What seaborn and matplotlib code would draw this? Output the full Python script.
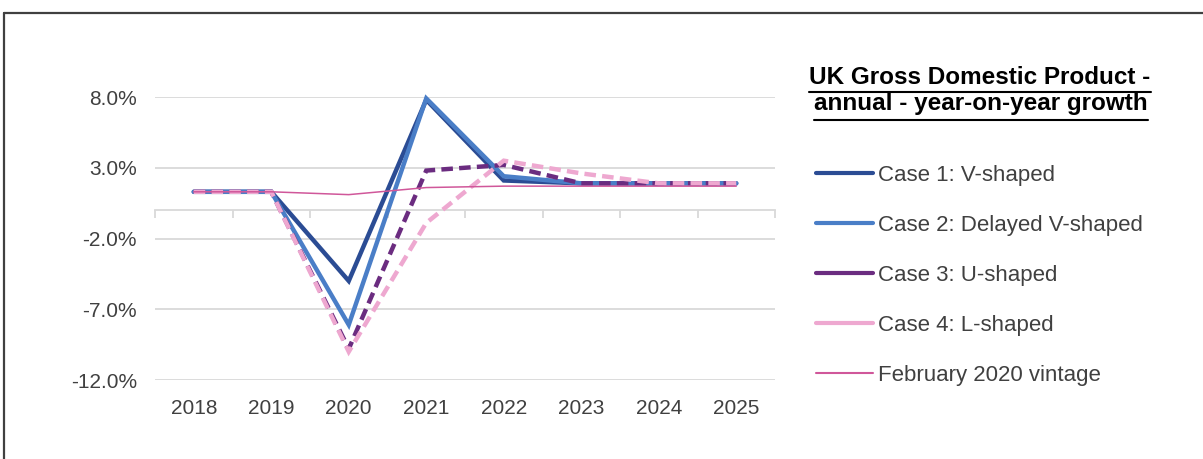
import numpy as np
import pandas as pd
import matplotlib
matplotlib.use("Agg")
import matplotlib.pyplot as plt
import seaborn as sns
from matplotlib.lines import Line2D

# ---------------- data ----------------
years = [2018, 2019, 2020, 2021, 2022, 2023, 2024, 2025]
case1 = [1.3, 1.3, -5.0, 7.8, 2.1, 1.9, 1.9, 1.9]
case2 = [1.3, 1.3, -8.1, 7.9, 2.4, 1.9, 1.9, 1.9]
case3 = [1.3, 1.3, -9.8, 2.8, 3.2, 1.9, 1.9, 1.9]
case4 = [1.3, 1.3, -10.0, -0.9, 3.5, 2.6, 1.9, 1.9]
feb2020 = [1.3, 1.3, 1.1, 1.6, 1.7, 1.7, 1.7, 1.7]
series_names = ["Case 1: V-shaped", "Case 2: Delayed V-shaped",
                "Case 3: U-shaped", "Case 4: L-shaped", "February 2020 vintage"]
ytick_values = [-12.0, -7.0, -2.0, 3.0, 8.0]
title_lines = ["UK Gross Domestic Product -", "annual - year-on-year growth"]

# ---------------- styles ----------------
colors = {
    series_names[0]: "#2B4C94",
    series_names[1]: "#4A7EC7",
    series_names[2]: "#6B2C80",
    series_names[3]: "#EEA8D0",
    series_names[4]: "#D0579A",
}
dashes = {
    series_names[0]: "",
    series_names[1]: "",
    series_names[2]: (2.6, 1.4),
    series_names[3]: (2.6, 1.4),
    series_names[4]: "",
}
widths = {
    series_names[0]: 3.2,
    series_names[1]: 3.2,
    series_names[2]: 3.2,
    series_names[3]: 3.2,
    series_names[4]: 1.1,
}

df = pd.DataFrame({
    "year": years * 5,
    "growth": case1 + case2 + case3 + case4 + feb2020,
    "series": np.repeat(series_names, len(years)),
})

sns.set_theme(style="white")
plt.rcParams["font.family"] = ["Liberation Sans", "DejaVu Sans"]

W, H = 1203, 459
fig = plt.figure(figsize=(W / 100, H / 100), dpi=100)
fig.patch.set_facecolor("white")

ax = fig.add_axes([155 / W, 1 - 380 / H, 620 / W, 283 / H])

sns.lineplot(data=df, x="year", y="growth", hue="series", style="series",
             hue_order=series_names, style_order=series_names,
             palette=colors, dashes=dashes, legend=False, ax=ax,
             linewidth=3.2, sort=False)

for line, name in zip(ax.lines, series_names):
    line.set_linewidth(widths[name])
    line.set_clip_on(False)
    line.set_solid_joinstyle("miter")
    line.set_dash_joinstyle("miter")
    line.set_dash_capstyle("butt")

ymin, ymax = ytick_values[0], ytick_values[-1]
ax.set_ylim(ymin, ymax)
ax.set_xlim(years[0] - 0.5, years[-1] + 0.5)
ax.set_yticks(ytick_values)
ax.set_yticklabels([f"{v:.1f}%" for v in ytick_values])
ax.set_xticks(years)
ax.set_xticklabels([str(y) for y in years])
ax.set_xlabel("")
ax.set_ylabel("")
ax.grid(axis="y", color="#D9D9D9", linewidth=1.3)
ax.grid(axis="x", visible=False)
for s in ax.spines.values():
    s.set_visible(False)
ax.tick_params(axis="y", length=0, pad=13, labelsize=15, labelcolor="#404040")
ax.tick_params(axis="x", length=0, pad=14, labelsize=15, labelcolor="#404040")

# zero axis with category-boundary ticks pointing down
zero_frac = (0 - ymin) / (ymax - ymin)
sec = ax.secondary_xaxis(zero_frac)
boundaries = [y - 0.5 for y in years] + [years[-1] + 0.5]
sec.set_xticks(boundaries)
sec.set_xticklabels([""] * len(boundaries))
sec.xaxis.set_ticks_position("bottom")
sec.tick_params(axis="x", which="both", length=6, width=1.3, color="#D9D9D9",
                direction="out", bottom=True, top=False)
for k, s in sec.spines.items():
    if k == "bottom":
        s.set_visible(True)
        s.set_color("#D9D9D9")
        s.set_linewidth(1.3)
    else:
        s.set_visible(False)

# legend
handles = [Line2D([], [], color=colors[n], linewidth=(3.0 if widths[n] > 2 else 1.5))
           for n in series_names]
fig.legend(handles, series_names, loc="upper left",
           bbox_to_anchor=(816 / W, 1 - 165 / H), frameon=False,
           fontsize=16, handlelength=2.55, handletextpad=0.25,
           labelspacing=1.3, borderpad=0, borderaxespad=0,
           labelcolor="#404040")

# title (bold, underlined)
t1 = fig.text(980 / W, 1 - 77 / H, title_lines[0], ha="center", va="center",
              fontsize=17.5, fontweight="bold", color="black")
t2 = fig.text(981 / W, 1 - 104 / H, title_lines[1], ha="center", va="center",
              fontsize=17.5, fontweight="bold", color="black")
fig.canvas.draw()
r = fig.canvas.get_renderer()
for t, uy in ((t1, 91.5), (t2, 119.5)):
    bb = t.get_window_extent(renderer=r)
    fig.add_artist(Line2D([bb.x0 / W, bb.x1 / W], [1 - uy / H, 1 - uy / H],
                          color="black", linewidth=1.5, transform=fig.transFigure))

# outer frame (top and left edges)
fig.add_artist(Line2D([3.5 / W, 1], [1 - 12.5 / H, 1 - 12.5 / H], color="#404040",
                      linewidth=1.6, transform=fig.transFigure))
fig.add_artist(Line2D([3.5 / W, 3.5 / W], [0, 1 - 12.5 / H], color="#404040",
                      linewidth=1.6, transform=fig.transFigure))

fig.savefig("out.png", dpi=100, facecolor="white")
